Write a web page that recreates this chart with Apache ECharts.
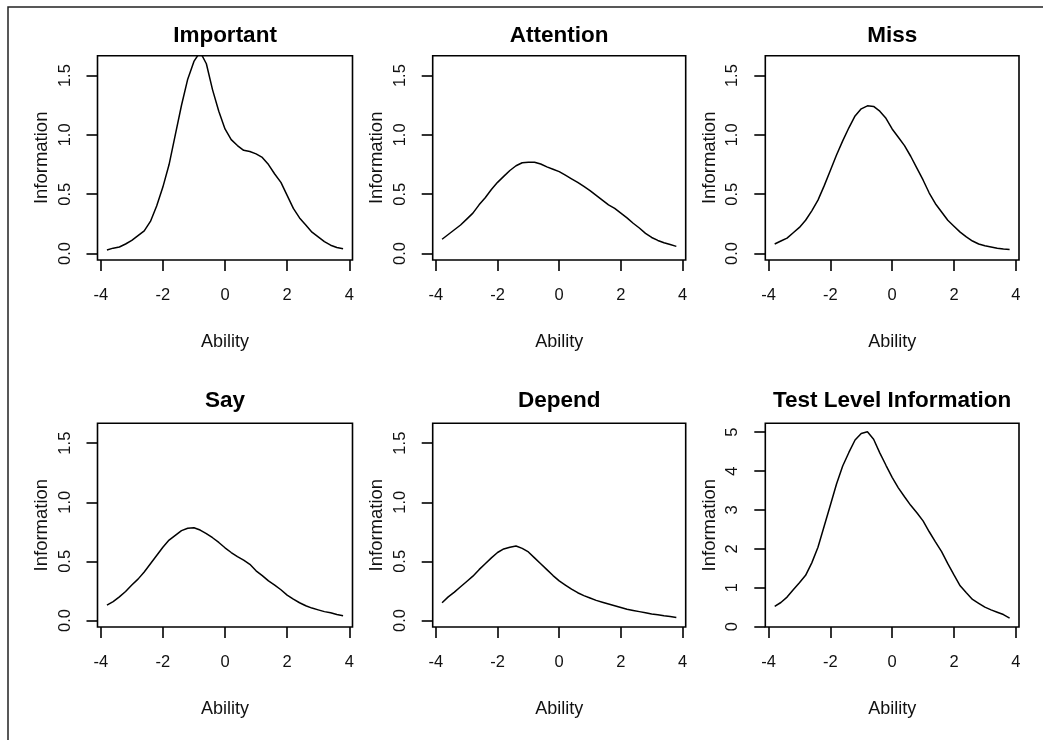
<!DOCTYPE html>
<html><head><meta charset="utf-8">
<script src="https://cdn.jsdelivr.net/npm/echarts@6/dist/echarts.min.js"></script>
<style>html,body{margin:0;padding:0;background:#fff}#c{width:1043px;height:740px}</style>
</head><body><div id="c"></div>
<script>
const ability = [-3.8,-3.6,-3.4,-3.2,-3.0,-2.8,-2.6,-2.4,-2.2,-2.0,-1.8,-1.6,-1.4,-1.2,-1.0,-0.8,-0.6,-0.4,-0.2,0.0,0.2,0.4,0.6,0.8,1.0,1.2,1.4,1.6,1.8,2.0,2.2,2.4,2.6,2.8,3.0,3.2,3.4,3.6,3.8];
const important = [0.03,0.045,0.055,0.08,0.11,0.15,0.19,0.27,0.40,0.56,0.75,1.00,1.25,1.47,1.62,1.70,1.60,1.38,1.20,1.05,0.96,0.91,0.87,0.86,0.84,0.81,0.75,0.67,0.60,0.49,0.38,0.30,0.24,0.18,0.14,0.10,0.07,0.05,0.04];
const attention = [0.12,0.16,0.20,0.24,0.29,0.34,0.41,0.47,0.54,0.60,0.65,0.70,0.74,0.765,0.77,0.77,0.755,0.73,0.71,0.69,0.66,0.63,0.60,0.565,0.53,0.49,0.45,0.41,0.38,0.34,0.30,0.255,0.215,0.17,0.135,0.11,0.09,0.075,0.06];
const miss = [0.08,0.105,0.13,0.175,0.22,0.28,0.36,0.45,0.57,0.70,0.83,0.95,1.06,1.16,1.22,1.245,1.24,1.20,1.14,1.05,0.98,0.91,0.82,0.72,0.62,0.51,0.42,0.35,0.28,0.23,0.18,0.14,0.105,0.08,0.065,0.055,0.045,0.037,0.033];
const say = [0.13,0.16,0.20,0.245,0.30,0.35,0.41,0.48,0.55,0.62,0.68,0.72,0.76,0.78,0.785,0.765,0.735,0.70,0.66,0.615,0.575,0.54,0.51,0.475,0.42,0.38,0.335,0.30,0.26,0.215,0.18,0.15,0.125,0.105,0.09,0.075,0.065,0.05,0.04];
const depend = [0.15,0.20,0.24,0.285,0.33,0.375,0.43,0.48,0.53,0.575,0.605,0.62,0.63,0.61,0.58,0.53,0.48,0.43,0.38,0.335,0.30,0.265,0.235,0.21,0.19,0.17,0.155,0.14,0.125,0.11,0.095,0.085,0.075,0.065,0.055,0.048,0.04,0.033,0.025];
const testInfo = [0.52,0.62,0.76,0.95,1.13,1.32,1.64,2.04,2.58,3.12,3.67,4.13,4.48,4.80,4.97,5.01,4.82,4.47,4.15,3.84,3.57,3.34,3.12,2.93,2.72,2.44,2.18,1.93,1.62,1.33,1.05,0.87,0.70,0.60,0.50,0.43,0.37,0.31,0.22];

const panelTitles = ['Important','Attention','Miss','Say','Depend','Test Level Information'];
const panelSeries = [important, attention, miss, say, depend, testInfo];
const xTicks = [-4,-2,0,2,4];
const itemTicksY = [0,0.5,1,1.5];
const testTicksY = [0,1,2,3,4,5];
const xLabel = 'Ability';
const yLabel = 'Information';

const FONT = "'Liberation Sans', Arial, sans-serif";
const boxes = [
  {left:97.5, top:55.7, width:255, height:204.3},
  {left:432.7, top:55.7, width:253, height:204.3},
  {left:765.3, top:55.7, width:253.7, height:204.3},
  {left:97.5, top:423.3, width:255, height:203.7},
  {left:432.7, top:423.3, width:253, height:203.7},
  {left:765.3, top:423.3, width:253.7, height:203.7}
];
const xRange = [-4.104, 4.104];
const itemRange = [-0.055, 1.668];
const testRange = [-0.01, 5.23];

const grids = [], xAxes = [], yAxes = [], series = [], titles = [];
boxes.forEach((b, i) => {
  grids.push({left:b.left, top:b.top, width:b.width, height:b.height, show:true,
    borderColor:'#000', borderWidth:1.6, backgroundColor:'transparent', containLabel:false});
  xAxes.push({type:'value', gridIndex:i, min:xRange[0], max:xRange[1], position:'bottom',
    axisLine:{show:false, onZero:false}, splitLine:{show:false},
    axisTick:{show:true, inside:false, length:11, lineStyle:{color:'#000', width:1.6}, customValues:xTicks},
    axisLabel:{show:true, customValues:xTicks, margin:27, color:'#111', fontSize:16.5, fontFamily:FONT},
    name:xLabel, nameLocation:'middle', nameGap:73,
    nameTextStyle:{color:'#111', fontSize:18, fontFamily:FONT}});
  const isTest = i === 5;
  const yt = isTest ? testTicksY : itemTicksY;
  const yr = isTest ? testRange : itemRange;
  yAxes.push({type:'value', gridIndex:i, min:yr[0], max:yr[1], position:'left',
    axisLine:{show:false, onZero:false}, splitLine:{show:false},
    axisTick:{show:true, inside:false, length:11, lineStyle:{color:'#000', width:1.6}, customValues:yt},
    axisLabel:{show:true, customValues:yt, rotate:90, margin:24, color:'#111', fontSize:16.5, fontFamily:FONT,
      formatter: v => isTest ? String(v) : Number(v).toFixed(1)},
    name:yLabel, nameLocation:'middle', nameGap:46,
    nameTextStyle:{color:'#111', fontSize:18.5, fontFamily:FONT}});
  series.push({type:'line', xAxisIndex:i, yAxisIndex:i, showSymbol:false, symbol:'none',
    clip:true, smooth:false, animation:false,
    lineStyle:{color:'#000', width:1.5},
    data: ability.map((x, k) => [x, panelSeries[i][k]])});
  titles.push({text:panelTitles[i], left:b.left + b.width/2, textAlign:'center',
    top: i < 3 ? 24 : 389, padding:0,
    textStyle:{color:'#000', fontSize:22.5, fontWeight:'bold', fontFamily:FONT}});
});

const chart = echarts.init(document.getElementById('c'), null, {renderer:'canvas'});
chart.setOption({
  animation:false,
  backgroundColor:'#fff',
  title: titles,
  grid: grids,
  xAxis: xAxes,
  yAxis: yAxes,
  series: series,
  graphic: [{type:'rect', shape:{x:8, y:7, width:1100, height:800},
    style:{fill:'none', stroke:'#222', lineWidth:1.5}, silent:true}]
});
</script>
</body></html>
